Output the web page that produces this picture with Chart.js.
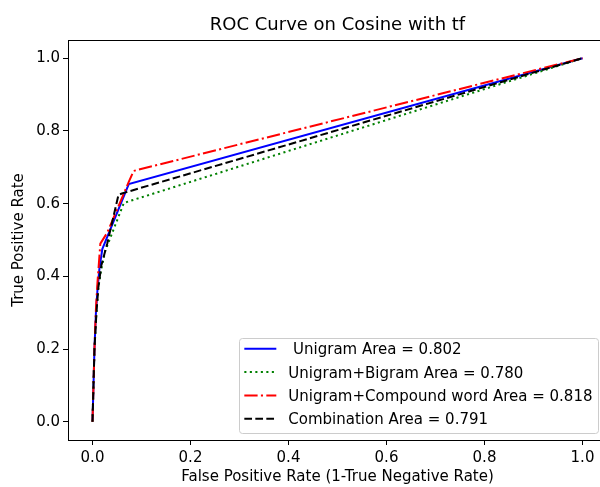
<!DOCTYPE html>
<html>
<head>
<meta charset="utf-8">
<script src="https://cdn.jsdelivr.net/npm/chart.js@4.4.1/dist/chart.umd.min.js"></script>
<style>
    html, body { margin: 0; padding: 0; background: #fff; overflow: hidden; }
    #rocChart { display: block; }
</style>
</head>
<body>
<canvas id="rocChart" width="620" height="487"></canvas>
<script>
const chartTitle = "ROC Curve on Cosine with tf";
const xTicks = [0.0, 0.2, 0.4, 0.6, 0.8, 1.0];
const yTicks = [0.0, 0.2, 0.4, 0.6, 0.8, 1.0];

const seriesLabels = [
    " Unigram Area = 0.802",
    "Unigram+Bigram Area = 0.780",
    "Unigram+Compound word Area = 0.818",
    "Combination Area = 0.791"
];

// false positive / true positive rates per model
const unigramFpr = [0, 0.002, 0.004, 0.007, 0.010, 0.014, 0.020, 0.074, 1];
const unigramTpr = [0, 0.10, 0.20, 0.30, 0.36, 0.42, 0.475, 0.654, 1];

const bigramFpr = [0, 0.002, 0.004, 0.008, 0.012, 0.018, 0.026, 0.064, 1];
const bigramTpr = [0, 0.10, 0.20, 0.30, 0.37, 0.42, 0.47, 0.602, 1];

const compoundFpr = [0, 0.002, 0.004, 0.007, 0.010, 0.016, 0.030, 0.074, 0.084, 1];
const compoundTpr = [0, 0.10, 0.20, 0.31, 0.38, 0.49, 0.52, 0.66, 0.69, 1];

const comboFpr = [0, 0.002, 0.004, 0.008, 0.012, 0.018, 0.030, 0.053, 0.060, 1];
const comboTpr = [0, 0.10, 0.20, 0.30, 0.37, 0.43, 0.49, 0.624, 0.628, 1];

const FONT = "'DejaVu Sans', sans-serif";
const TEXT_SIZE = 15;

function toPoints(xs, ys) {
    return xs.map((x, i) => ({ x: x, y: ys[i] }));
}

// frame, title and legend box drawn on top of the plot
const framePlugin = {
    id: "frame",
    afterDraw(chart) {
        const ctx = chart.ctx;
        const area = chart.chartArea;

        ctx.save();
        ctx.strokeStyle = "#000";
        ctx.lineWidth = 1;
        ctx.strokeRect(Math.round(area.left) + 0.5, Math.round(area.top) + 0.5,
            Math.round(area.right - area.left), Math.round(area.bottom - area.top));

        ctx.fillStyle = "#000";
        ctx.font = "18px " + FONT;
        ctx.textAlign = "center";
        ctx.textBaseline = "alphabetic";
        ctx.fillText(chartTitle, (area.left + area.right) / 2, 30);

        // legend
        ctx.font = TEXT_SIZE + "px " + FONT;
        const widths = chart.data.datasets.map(ds => ctx.measureText(ds.label).width);
        const pad = 5.5, handle = 32, gap = 12, rowH = 23.3;
        const boxW = pad + handle + gap + Math.max(...widths) + pad;
        const boxH = 95;
        const right = area.right - 9;
        const bottom = area.bottom - 7.5;
        const left = right - boxW;
        const top = bottom - boxH;

        ctx.beginPath();
        ctx.roundRect(Math.round(left) + 0.5, Math.round(top) + 0.5, Math.round(boxW), Math.round(boxH), 3);
        ctx.fillStyle = "rgba(255,255,255,0.8)";
        ctx.fill();
        ctx.strokeStyle = "#cccccc";
        ctx.lineWidth = 1;
        ctx.stroke();

        ctx.textAlign = "left";
        chart.data.datasets.forEach((ds, i) => {
            const base = top + 16.8 + i * rowH;
            const mid = base - 5.5;
            ctx.beginPath();
            ctx.setLineDash(ds.borderDash || []);
            ctx.strokeStyle = ds.borderColor;
            ctx.lineWidth = ds.borderWidth;
            ctx.moveTo(left + pad, mid);
            ctx.lineTo(left + pad + handle, mid);
            ctx.stroke();
            ctx.setLineDash([]);
            ctx.fillStyle = "#000";
            ctx.fillText(ds.label, left + pad + handle + gap, base);
        });
        ctx.restore();
    }
};

const axisCommon = {
    type: "linear",
    min: -0.05,
    max: 1.05,
    grid: {
        display: true,
        drawOnChartArea: false,
        drawTicks: true,
        tickLength: 5,
        color: "#000",
        lineWidth: 1
    },
    border: { display: true, color: "#000", width: 1 }
};

new Chart(document.getElementById("rocChart"), {
    type: "scatter",
    data: {
        datasets: [
            {
                label: seriesLabels[0],
                data: toPoints(unigramFpr, unigramTpr),
                borderColor: "#0000ff",
                borderWidth: 2,
                order: 4
            },
            {
                label: seriesLabels[1],
                data: toPoints(bigramFpr, bigramTpr),
                borderColor: "#008000",
                borderWidth: 2,
                borderDash: [2.1, 3.4],
                order: 3
            },
            {
                label: seriesLabels[2],
                data: toPoints(compoundFpr, compoundTpr),
                borderColor: "#ff0000",
                borderWidth: 2,
                borderDash: [13.3, 3.3, 2.1, 3.3],
                order: 2
            },
            {
                label: seriesLabels[3],
                data: toPoints(comboFpr, comboTpr),
                borderColor: "#000000",
                borderWidth: 2,
                borderDash: [7.7, 3.3],
                order: 1
            }
        ].map(ds => Object.assign(ds, {
            showLine: true,
            fill: false,
            tension: 0,
            pointRadius: 0,
            pointHoverRadius: 0,
            backgroundColor: ds.borderColor
        }))
    },
    options: {
        responsive: false,
        animation: false,
        events: [],
        layout: { padding: { top: 40, right: 13, left: 0, bottom: 0 } },
        plugins: {
            legend: { display: false },
            tooltip: { enabled: false },
            title: { display: false }
        },
        scales: {
            x: Object.assign({}, axisCommon, {
                position: "bottom",
                afterBuildTicks: scale => { scale.ticks = xTicks.map(v => ({ value: v })); },
                afterFit: scale => { scale.height = 47; },
                ticks: {
                    color: "#000",
                    padding: 4,
                    maxRotation: 0,
                    font: { family: FONT, size: TEXT_SIZE },
                    callback: v => Number(v).toFixed(1)
                },
                title: {
                    display: true,
                    text: "False Positive Rate (1-True Negative Rate)",
                    color: "#000",
                    font: { family: FONT, size: TEXT_SIZE },
                    padding: { top: 0, bottom: 1 }
                }
            }),
            y: Object.assign({}, axisCommon, {
                position: "left",
                afterBuildTicks: scale => { scale.ticks = yTicks.map(v => ({ value: v })); },
                afterFit: scale => { scale.width = 68; },
                ticks: {
                    color: "#000",
                    padding: 3,
                    font: { family: FONT, size: TEXT_SIZE },
                    callback: v => Number(v).toFixed(1)
                },
                title: {
                    display: true,
                    text: "True Positive Rate",
                    color: "#000",
                    font: { family: FONT, size: TEXT_SIZE },
                    padding: { top: 10, bottom: 0 }
                }
            })
        }
    },
    plugins: [framePlugin]
});
</script>
</body>
</html>
